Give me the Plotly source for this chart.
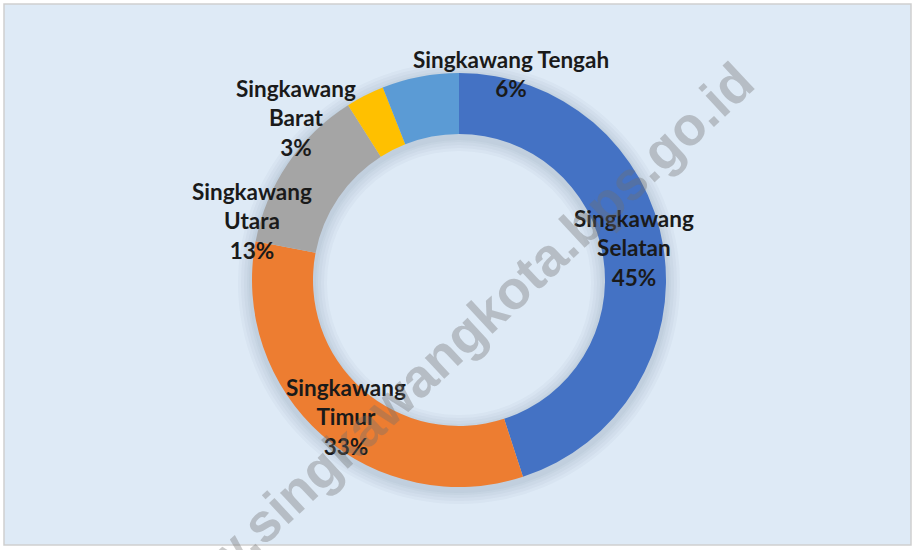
import plotly.graph_objects as go

W, H = 915, 550

# ---- data ----
districts = ["Singkawang Selatan", "Singkawang Timur", "Singkawang Utara",
             "Singkawang Barat", "Singkawang Tengah"]
shares = [45, 33, 13, 3, 6]
colors = ["#4472C4", "#ED7D31", "#A5A5A5", "#FFC000", "#5B9BD5"]
watermark = "www.singkawangkota.bps.go.id"

# ---- layout helpers (pixels) ----
label_pos = [(634, 248), (346, 417), (252, 221), (296, 118), (511, 74)]
one_line_names = {"Singkawang Tengah"}
cx, cy, r_out, r_in = 459, 280, 207, 146

def px(x, y):
    return x / W, 1 - y / H

fig = go.Figure()

# soft shadow around the ring (decoration)
for k in [14, 11, 8, 5, 3]:
    ro, ri = r_out + k, r_in - k
    oy = 3
    fig.add_trace(go.Pie(
        values=[1], marker=dict(colors=["rgba(60,80,110,0.035)"], line=dict(width=0)),
        hole=ri / ro, sort=False, textinfo="none", hoverinfo="skip", showlegend=False,
        domain=dict(x=[(cx - ro) / W, (cx + ro) / W],
                    y=[1 - (cy + oy + ro) / H, 1 - (cy + oy - ro) / H]),
    ))

fig.add_trace(go.Pie(
    labels=districts,
    values=shares,
    marker=dict(colors=colors, line=dict(width=0)),
    hole=r_in / r_out,
    sort=False,
    direction="clockwise",
    rotation=0,
    textinfo="none",
    hoverinfo="label+percent",
    showlegend=False,
    domain=dict(x=[(cx - r_out) / W, (cx + r_out) / W],
                y=[1 - (cy + r_out) / H, 1 - (cy - r_out) / H]),
))

annotations = []
for name, val, (lx, ly) in zip(districts, shares, label_pos):
    nm = name if name in one_line_names else name.replace(" ", "<br>")
    xx, yy = px(lx, ly)
    annotations.append(dict(
        x=xx, y=yy, xref="paper", yref="paper",
        text=f"{nm}<br>{val}%", showarrow=False,
        xanchor="center", yanchor="middle", align="center",
        font=dict(family="Lato", size=22.5, color="#1a1a1a", weight="bold"),
    ))

wx, wy = px(446, 351)
annotations.append(dict(
    x=wx, y=wy, xref="paper", yref="paper",
    text=watermark, showarrow=False, textangle=-43,
    xanchor="center", yanchor="middle",
    font=dict(family="Liberation Sans", size=54, color="rgba(110,110,110,0.36)", weight="bold"),
))

fig.update_layout(
    width=W, height=H,
    margin=dict(l=0, r=0, t=0, b=0),
    paper_bgcolor="white",
    shapes=[dict(type="rect", xref="paper", yref="paper",
                 x0=4 / W, x1=911 / W, y0=1 - 545 / H, y1=1 - 4 / H,
                 fillcolor="#DEEAF6", line=dict(color="#CFCFCF", width=1.5),
                 layer="below")],
    annotations=annotations,
)

fig.write_html("out.html", config={"displayModeBar": False},
               post_script="document.body.style.margin='0';document.body.style.overflow='hidden';")
